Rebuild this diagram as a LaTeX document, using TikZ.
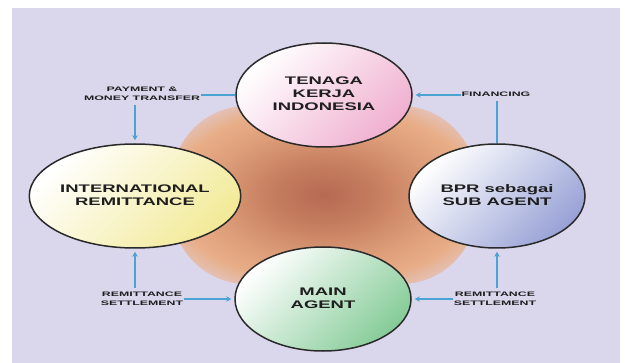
\documentclass[tikz,border=0pt]{standalone}
\usepackage{fontspec}
\setmainfont{Liberation Sans}
\usetikzlibrary{shapes.geometric,arrows.meta}
\definecolor{bg}{HTML}{DAD6EC}
\definecolor{blobA}{HTML}{B66A52}
\definecolor{blobB}{HTML}{C47C5E}
\definecolor{blobC}{HTML}{DC9C78}
\definecolor{blobD}{HTML}{E8AE88}
\definecolor{blobE}{HTML}{E4C0B4}
\definecolor{pinkc}{HTML}{F0B0D0}
\definecolor{yellowc}{HTML}{F2EA98}
\definecolor{bluec}{HTML}{98A2D6}
\definecolor{greenc}{HTML}{86CC98}
\definecolor{elline}{HTML}{2A2A2A}
\definecolor{txt}{HTML}{1E1E1E}
\definecolor{arrowc}{HTML}{4BA3D3}
\newcommand{\wtext}[2]{\scalebox{#1}[1]{\begin{tabular}{@{}c@{}}#2\end{tabular}}}
\pgfdeclareradialshading{blobshade}{\pgfpoint{0bp}{0bp}}{color(0bp)=(blobA); color(8bp)=(blobB); color(18bp)=(blobC); color(25bp)=(blobD); color(29bp)=(blobE); color(32bp)=(bg); color(50bp)=(bg)}
\begin{document}
\begin{tikzpicture}[x=1pt,y=-1pt,
  elli/.style={ellipse, draw=elline, line width=1.5pt, minimum width=176pt, minimum height=104pt, inner sep=0pt, font=\fontsize{11}{13}\selectfont\bfseries, text=txt},
  lbl/.style={inner sep=1pt, font=\fontsize{6.5}{9.5}\selectfont\bfseries, text=txt},
  conn/.style={draw=arrowc, line width=1.2pt},
  tip/.style={-{Stealth[length=5pt,width=5.5pt]}, shorten >=3pt}]
\useasboundingbox (0,0) rectangle (626,363);
\fill[white] (0,0) rectangle (626,363);
\fill[bg] (12,8) rectangle (620,363);
\shade[shading=blobshade, rounded corners=75pt] (172,106) rectangle (476,284);
\node[elli, top color=white, bottom color=pinkc, shading angle=45] (tki) at (324,95) {\wtext{1.68}{TENAGA\\KERJA\\INDONESIA}};
\node[elli, top color=white, bottom color=yellowc, shading angle=45] (ir) at (135,196) {\wtext{1.68}{INTERNATIONAL\\REMITTANCE}};
\node[elli, top color=white, bottom color=bluec, shading angle=45] (bpr) at (497,196) {\wtext{1.68}{BPR sebagai\\SUB AGENT}};
\node[elli, top color=white, bottom color=greenc, shading angle=45] (ma) at (323,299) {\wtext{1.68}{MAIN\\AGENT}};
\node[lbl] (pay) at (142,94) {\wtext{1.9}{PAYMENT \&\\MONEY TRANSFER}};
\node[lbl] (fin) at (496,95) {\wtext{1.9}{FINANCING}};
\node[lbl] (rsl) at (142,299) {\wtext{1.9}{REMITTANCE\\SETTLEMENT}};
\node[lbl] (rsr) at (495,299) {\wtext{1.9}{REMITTANCE\\SETTLEMENT}};
\draw[conn] (tki.west) -- (pay.east |- tki.west);
\draw[conn,tip] (pay.south -| ir.north) -- (ir.north);
\draw[conn,tip] (fin.west) -- (tki.east);
\draw[conn] (bpr.north) -- (bpr.north |- fin.south);
\draw[conn,tip] (rsl.east) -- (ma.west);
\draw[conn,tip] (rsl.north -| ir.south) -- (ir.south);
\draw[conn,tip] (rsr.west) -- (ma.east);
\draw[conn,tip] (rsr.north -| bpr.south) -- (bpr.south);
\end{tikzpicture}
\end{document}
